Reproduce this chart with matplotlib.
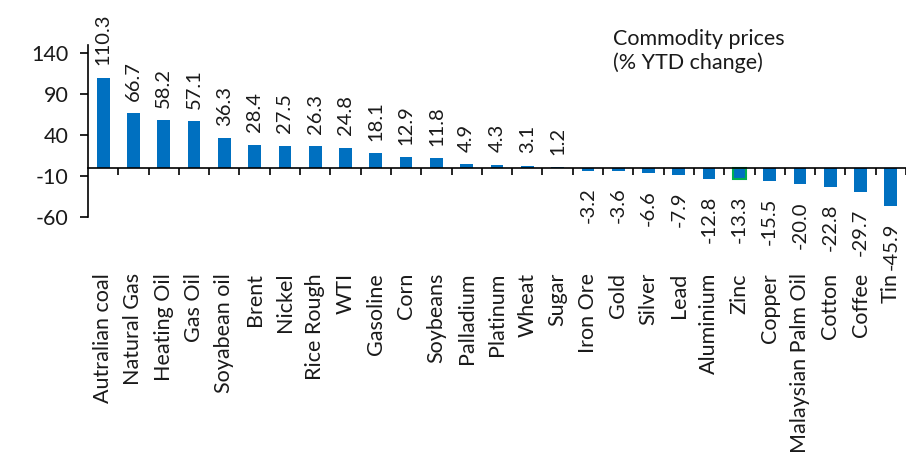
import numpy as np
import matplotlib
matplotlib.use("Agg")
import matplotlib.pyplot as plt
from matplotlib import transforms

plt.rcParams["font.family"] = ["Lato", "DejaVu Sans"]

categories = [
    "Autralian coal", "Natural Gas", "Heating Oil", "Gas Oil", "Soyabean oil",
    "Brent", "Nickel", "Rice Rough", "WTI", "Gasoline", "Corn", "Soybeans",
    "Palladium", "Platinum", "Wheat", "Sugar", "Iron Ore", "Gold", "Silver",
    "Lead", "Aluminium", "Zinc", "Copper", "Malaysian Palm Oil", "Cotton",
    "Coffee", "Tin",
]
ytd_change = [
    110.3, 66.7, 58.2, 57.1, 36.3, 28.4, 27.5, 26.3, 24.8, 18.1, 12.9, 11.8,
    4.9, 4.3, 3.1, 1.2, -3.2, -3.6, -6.6, -7.9, -12.8, -13.3, -15.5, -20.0,
    -22.8, -29.7, -45.9,
]
highlight = "Zinc"
y_ticks = [-60, -10, 40, 90, 140]

W, H = 906, 463
fig = plt.figure(figsize=(W / 100, H / 100), dpi=100)

left_px, right_px, top_px, bottom_px = 88, 906, 45, 217.3
ax = fig.add_axes([left_px / W, 1 - bottom_px / H,
                   (right_px - left_px) / W, (bottom_px - top_px) / H])

blue = "#0070C0"
green = "#00B050"
text_color = "#1a1a1a"
fs_val = 14.5
fs_cat = 15.5
fs_tick = 15.5
fs_title = 15.5

x = np.arange(len(categories))
edge = [green if c == highlight else blue for c in categories]
lw = [1.5 if c == highlight else 0 for c in categories]
ax.bar(x, ytd_change, width=0.42, color=blue, edgecolor=edge, linewidth=lw,
       zorder=2)

cat_width_px = 30.55
ax.set_xlim(-0.5, -0.5 + (right_px - left_px) / cat_width_px)
ax.set_ylim(-60, 150)

# value labels, rotated, just beyond the end of each bar
for xi, v in zip(x, ytd_change):
    if v >= 0:
        ax.annotate(f"{v:.1f}", (xi, v), xytext=(0, 9), textcoords="offset points",
                    rotation=90, ha="center", va="bottom", fontsize=fs_val,
                    color=text_color)
    else:
        ax.annotate(f"{v:.1f}", (xi, v), xytext=(0, -12), textcoords="offset points",
                    rotation=90, ha="center", va="top", fontsize=fs_val,
                    color=text_color)

# category names hang below the plotting area
trans = transforms.blended_transform_factory(ax.transData, fig.transFigure)
for xi, name in zip(x, categories):
    ax.text(xi, 1 - 273 / H, name, rotation=90, ha="center", va="top",
            fontsize=fs_cat, color=text_color, transform=trans)

# axes styling
for s in ("top", "right"):
    ax.spines[s].set_visible(False)
ax.spines["bottom"].set_position(("data", 0))
ax.spines["bottom"].set_zorder(3)
for s in ("left", "bottom"):
    ax.spines[s].set_linewidth(1.2)
    ax.spines[s].set_color("#000000")

ax.set_xticks(np.arange(0.5, len(categories), 1))
ax.set_xticklabels([])
ax.tick_params(axis="x", direction="out", length=5, width=1.2, color="#000000")
ax.set_yticks(y_ticks)
ax.set_yticklabels([str(t) for t in y_ticks])
ax.tick_params(axis="y", direction="out", length=6, width=1.2, color="#000000",
               labelsize=fs_tick, labelcolor=text_color, pad=8)

fig.text(613 / W, 1 - 29 / H, "Commodity prices\n(% YTD change)", ha="left",
         va="top", fontsize=fs_title, color=text_color, linespacing=1.2)

fig.savefig("out.png", dpi=100)
